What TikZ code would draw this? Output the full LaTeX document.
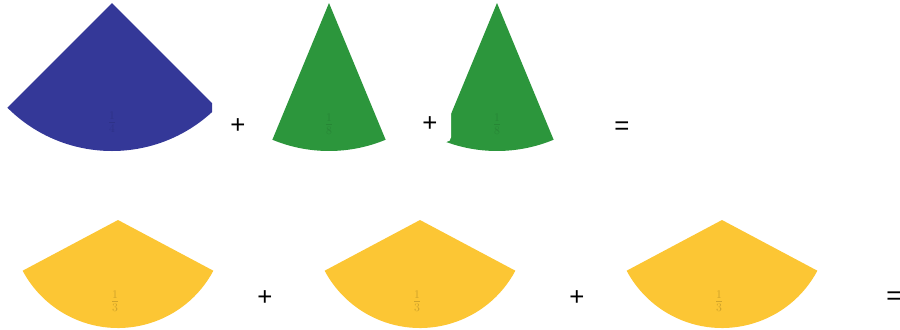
\documentclass[tikz,border=0pt]{standalone}
\usepackage{fontspec}
\setsansfont{Liberation Sans}
\usepackage{xcolor}
\definecolor{pieceblue}{RGB}{52,56,152}
\definecolor{piecegreen}{RGB}{44,150,60}
\definecolor{pieceyellow}{RGB}{252,198,52}
\tikzset{
  piece/.style={draw=none},
  sign/.style={font=\sffamily\fontsize{22}{26}\selectfont,inner sep=0pt},
  fraclabel/.style={font=\Large,inner sep=0pt,opacity=0.1}
}

\begin{document}
\begin{tikzpicture}[x=0.03cm,y=-0.03cm]
\useasboundingbox (0,0) rectangle (900,329);
% top row: one quarter and two eighths
\coordinate (q) at (112,3);
\coordinate (e1) at (329,3);
\coordinate (e2) at (497,3);
\begin{scope}
\clip (0,0) rectangle (212,329);
\fill[piece,pieceblue] (q) -- ++(45:148) arc[start angle=45,end angle=135,radius=148] -- cycle;
\end{scope}
\foreach \c in {e1,e2}
  \fill[piece,piecegreen] (\c) -- ++(67.5:148) arc[start angle=67.5,end angle=112.5,radius=148] -- cycle;
\fill[white,rounded corners=4] (400,80) rectangle (451,142);
\node[fraclabel,text=black] (fq) at (112,122) {$\frac{1}{4}$};
\node[fraclabel,text=black] (fe1) at (329,124) {$\frac{1}{8}$};
\node[fraclabel,text=black] (fe2) at (497,124) {$\frac{1}{8}$};
\node[sign] (p1) at (238,126) {+};
\node[sign] (p2) at (430,124) {+};
\node[sign] (eq1) at (622,128) {=};
% bottom row: three thirds
\foreach \x [count=\i] in {118,420,722} {
  \coordinate (t\i) at (\x,220);
  \fill[piece,pieceyellow] (t\i) -- ++(28:108) arc[start angle=28,end angle=152,radius=108] -- cycle;
  \node[fraclabel,text=black!50!pieceyellow,opacity=0.35] (ft\i) at (\x-3,301) {$\frac{1}{3}$};
}
\node[sign] (p3) at (265,298) {+};
\node[sign] (p4) at (577,298) {+};
\node[sign] (eq2) at (894,298) {=};
\end{tikzpicture}
\end{document}
